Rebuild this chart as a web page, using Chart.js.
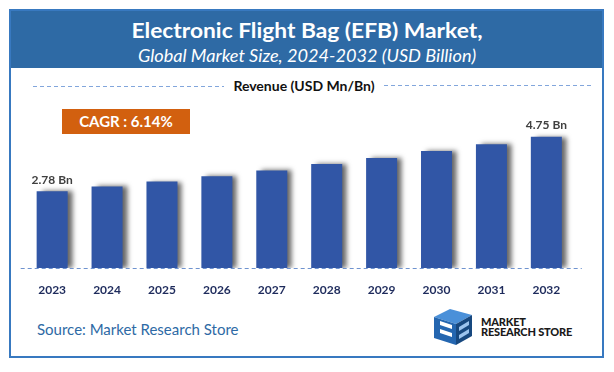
<!DOCTYPE html>
<html>
<head>
<meta charset="utf-8">
<script src="https://cdn.jsdelivr.net/npm/chart.js@4.4.1/dist/chart.umd.min.js"></script>
<style>
  html, body { margin:0; padding:0; background:#fff; }
  body { width:614px; height:372px; position:relative; overflow:hidden; font-family: Lato, "Open Sans", sans-serif; }
  #frame { position:absolute; left:9px; top:9px; width:591px; height:345px; border:2px solid #3879C0; }
  #band { position:absolute; left:9px; top:9px; width:595px; height:59px; background:#2E6AA5; }
  #t1 { position:absolute; left:0; width:614px; top:17px; text-align:center; color:#fff; font-weight:bold; font-size:20.5px; line-height:26px; transform:scaleX(1.11); transform-origin:307px 0; }
  #t2 { position:absolute; left:0; width:614px; top:45px; text-align:center; color:#fff; font-style:italic; font-size:16.5px; line-height:22px; transform:scaleX(1.1); transform-origin:307px 0; }
  #legend { position:absolute; left:204px; width:200px; top:77px; text-align:center; font-weight:bold; font-size:14px; line-height:18px; color:#111; }
  #cagr { position:absolute; left:62px; top:109px; width:128px; height:25px; background:#D2600F; color:#fff; font-weight:bold; font-size:15px; line-height:25px; text-align:center; }
  #source { position:absolute; left:37px; top:319px; font-size:15px; line-height:20px; color:#2E6AA5; }
  #logo { position:absolute; left:432px; top:307px; }
  #lt1, #lt2 { position:absolute; left:481px; font-weight:900; font-size:11px; line-height:10px; color:#1a1a1a; letter-spacing:-0.2px; }
  #lt1 { top:317px; }
  #lt2 { top:327px; }
  canvas { position:absolute; left:0; top:0; }
</style>
</head>
<body>
<div id="band"></div>
<div id="frame"></div>
<div id="t1">Electronic Flight Bag (EFB) Market,</div>
<div id="t2">Global Market Size, 2024-2032 (USD Billion)</div>
<div id="legend">Revenue (USD Mn/Bn)</div>
<div id="cagr">CAGR : 6.14%</div>
<div id="source">Source: Market Research Store</div>
<svg id="logo" width="42" height="40" viewBox="0 0 42 40">
  <polygon points="2,10 18,2 40,8 24,17" fill="#4A90D9"/>
  <polygon points="2,10 24,17 24,38 2,31" fill="#2466B0"/>
  <polygon points="24,17 40,8 40,29 24,38" fill="#17487F"/>
  <polygon points="8,14 20,18 20,22 8,18" fill="#ffffff"/>
  <polygon points="8,22 20,26 20,30 8,26" fill="#ffffff"/>
  <polygon points="27,20 37,14 37,18 27,24" fill="#9CC4EE"/>
  <polygon points="27,28 37,22 37,26 27,32" fill="#9CC4EE"/>
</svg>
<div id="lt1">MARKET</div>
<div id="lt2">RESEARCH STORE</div>
<canvas id="c" width="614" height="372"></canvas>
<script>
const categories = ["2023","2024","2025","2026","2027","2028","2029","2030","2031","2032"];
const revenue = [2.78, 2.95, 3.13, 3.32, 3.53, 3.76, 3.98, 4.23, 4.48, 4.75];
const valueLabels = ["2.78 Bn", "", "", "", "", "", "", "", "", "4.75 Bn"];
const seriesName = "Revenue (USD Mn/Bn)";

const decor = {
  id: 'decor',
  beforeDatasetsDraw(chart) {
    const ctx = chart.ctx;
    const y0 = chart.scales.y.getPixelForValue(0);
    ctx.save();
    ctx.strokeStyle = '#6F93CF';
    ctx.lineWidth = 1;
    ctx.setLineDash([4, 3]);
    ctx.beginPath();
    ctx.moveTo(chart.chartArea.left - 4, y0 + 0.5);
    ctx.lineTo(chart.chartArea.right + 8, y0 + 0.5);
    ctx.stroke();
    ctx.strokeStyle = '#82A6DC';
    ctx.beginPath();
    ctx.moveTo(33, 86.5); ctx.lineTo(224, 86.5);
    ctx.moveTo(384, 85.5); ctx.lineTo(591, 85.5);
    ctx.stroke();
    ctx.restore();
    ctx.save();
    ctx.shadowColor = 'rgba(0,0,0,0.6)';
    ctx.shadowBlur = 5;
    ctx.shadowOffsetX = 5;
    ctx.shadowOffsetY = 0;
  },
  afterDatasetsDraw(chart) {
    const ctx = chart.ctx;
    ctx.restore();
    const meta = chart.getDatasetMeta(0);
    ctx.save();
    ctx.font = 'bold 12px Lato, sans-serif';
    ctx.fillStyle = '#404040';
    ctx.textAlign = 'center';
    ctx.textBaseline = 'middle';
    meta.data.forEach((bar, i) => {
      if (valueLabels[i]) ctx.fillText(valueLabels[i], bar.x, bar.y - 11.5);
    });
    ctx.restore();
  }
};

new Chart(document.getElementById('c'), {
  type: 'bar',
  data: {
    labels: categories,
    datasets: [{
      label: seriesName,
      data: revenue,
      backgroundColor: '#3156A6',
      borderWidth: 0,
      categoryPercentage: 1,
      barPercentage: 0.565
    }]
  },
  options: {
    responsive: false,
    animation: false,
    layout: { padding: { left: 24.7, right: 40.2, top: 102.2, bottom: 0 } },
    plugins: { legend: { display: false }, tooltip: { enabled: false } },
    scales: {
      x: {
        grid: { display: false },
        border: { display: false },
        ticks: { color: '#1E2B5C', font: { family: 'Lato, sans-serif', size: 12, weight: 'bold' }, padding: 7, maxRotation: 0 },
        afterFit(scale) { scale.height = 104; }
      },
      y: { display: false, min: 0, max: 6 }
    }
  },
  plugins: [decor]
});
</script>
</body>
</html>
